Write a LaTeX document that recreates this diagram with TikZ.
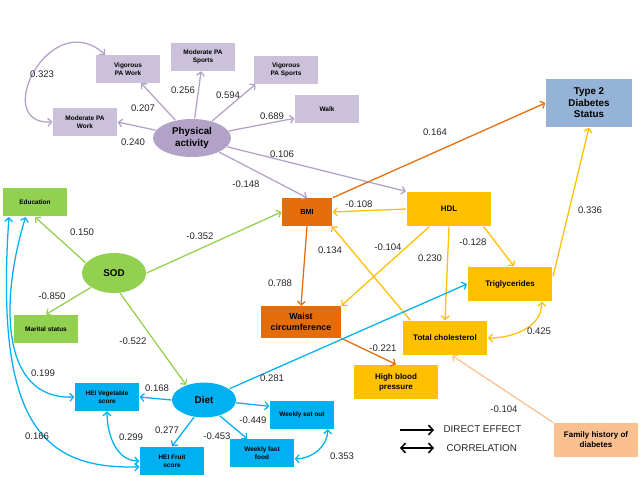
\documentclass[tikz,border=0pt]{standalone}
\usepackage{fontspec}
\setmainfont{Liberation Sans}
\usepackage{tikz}
\usetikzlibrary{arrows.meta,shapes.geometric}
\definecolor{palight}{HTML}{CCC1DA}
\definecolor{padark}{HTML}{B3A2C7}
\definecolor{sodgreen}{HTML}{92D050}
\definecolor{bmiorange}{HTML}{E46C0A}
\definecolor{lipidyellow}{HTML}{FFC000}
\definecolor{dietblue}{HTML}{00B0F0}
\definecolor{tdblue}{HTML}{95B3D7}
\definecolor{fampeach}{HTML}{FAC090}

\begin{document}
\begin{tikzpicture}[x=0.025cm, y=-0.025cm, line width=0.9pt,
        >={Straight Barb[length=2.6pt,width=5.6pt]},
        nodes={inner sep=0pt, align=center},
        sbox/.style={rectangle, minimum width=1.6cm, minimum height=0.68cm, font=\fontsize{4.6}{5.6}\selectfont\bfseries},
        mbox/.style={rectangle, minimum width=2.12cm, minimum height=0.85cm, font=\fontsize{5.7}{7.2}\selectfont\bfseries},
        lv/.style={ellipse, font=\fontsize{7}{8.4}\selectfont\bfseries},
        w/.style={font=\fontsize{6.8}{8}\selectfont, text=black!85},
        legend/.style={line width=1.1pt, >={Straight Barb[length=3.2pt,width=7pt]}}]
        \useasboundingbox (0,0) rectangle (640,476);
        \node[sbox, fill=palight] (vpw) at (128,69) {Vigorous\\PA Work};
        \node[sbox, fill=palight] (mps) at (203,57) {Moderate PA\\Sports};
        \node[sbox, fill=palight] (vps) at (286,70) {Vigorous\\PA Sports};
        \node[sbox, fill=palight] (walk) at (327,109) {Walk};
        \node[sbox, fill=palight] (mpw) at (85,122) {Moderate PA\\Work};
        \node[lv, fill=padark, minimum width=1.95cm, minimum height=0.95cm] (pa) at (192,138) {Physical\\activity};
        \node[rectangle, fill=tdblue, minimum width=2.15cm, minimum height=1.2cm, font=\fontsize{7}{8.2}\selectfont\bfseries] (t2d) at (589,103) {Type 2\\Diabetes\\Status};
        \node[sbox, fill=sodgreen, minimum height=0.72cm] (edu) at (35,202) {Education};
        \node[lv, fill=sodgreen, minimum width=1.6cm, minimum height=1cm] (sod) at (114,273) {SOD};
        \node[sbox, fill=sodgreen, minimum height=0.7cm] (ms) at (46,329) {Marital status};
        \node[rectangle, fill=bmiorange, minimum width=1.25cm, minimum height=0.68cm, font=\fontsize{5.2}{6}\selectfont\bfseries] (bmi) at (307,212) {BMI};
        \node[mbox, fill=lipidyellow] (hdl) at (449,209) {HDL};
        \node[mbox, fill=lipidyellow] (trig) at (510,284) {Triglycerides};
        \node[rectangle, fill=bmiorange, minimum width=1.98cm, minimum height=0.78cm, font=\fontsize{6.3}{7.6}\selectfont\bfseries] (waist) at (301,322) {Waist\\circumference};
        \node[mbox, fill=lipidyellow] (tc) at (445,338) {Total cholesterol};
        \node[mbox, fill=lipidyellow] (hbp) at (396,382) {High blood\\pressure};
        \node[mbox, fill=fampeach] (fam) at (596,440) {Family history of\\diabetes};
        \node[lv, fill=dietblue, minimum width=1.6cm, minimum height=0.87cm] (diet) at (204,400) {Diet};
        \node[sbox, fill=dietblue] (veg) at (107,397) {HEI Vegetable\\score};
        \node[sbox, fill=dietblue, minimum height=0.7cm] (fruit) at (172,461) {HEI Fruit\\score};
        \node[sbox, fill=dietblue] (weo) at (302,415) {Weekly eat out};
        \node[sbox, fill=dietblue] (wff) at (262,453) {Weekly fast\\food};
        \draw [->, padark] (pa) -- (vpw);
        \draw [->, padark] (pa) -- (mps);
        \draw [->, padark] (pa) -- (vps.205);
        \draw [->, padark] (pa) -- (walk.196);
        \draw [->, padark] (pa) -- (mpw.east);
        \draw [->, padark] (pa) -- (bmi.north);
        \draw [->, padark] (pa) -- (hdl.north west);
        \draw [<->, padark] (mpw.west) .. controls (-10,125) and (50,5) .. (vpw.148);
        \draw [->, sodgreen] (sod.160) -- (edu.south);
        \draw [->, sodgreen] (sod.212) -- (ms.north);
        \draw [->, sodgreen] (sod.east) -- (bmi.west);
        \draw [->, sodgreen] (sod.-73) -- (diet.140);
        \draw [->, bmiorange] (bmi.north east) -- (t2d.west);
        \draw [->, bmiorange] (bmi.south) -- (waist.north);
        \draw [->, bmiorange] (waist.south east) -- (hbp.north);
        \draw [->, lipidyellow] (hdl.west) -- (bmi.east);
        \draw [->, lipidyellow] (hdl) -- (waist.north east);
        \draw [->, lipidyellow] (hdl.south) -- (tc.north);
        \draw [->, lipidyellow] (hdl.-27) -- (trig.77);
        \draw [->, lipidyellow] (tc.153) -- (bmi.-30);
        \draw [->, lipidyellow] (trig.10) -- (t2d.south);
        \draw [<->, lipidyellow] (tc.east) to[out=0, in=-90] (trig.-29);
        \draw [->, fampeach] (fam.north west) -- (tc.-68);
        \draw [->, dietblue] (diet) -- (trig.west);
        \draw [->, dietblue] (diet.west) -- (veg.east);
        \draw [->, dietblue] (diet.240) -- (fruit.north);
        \draw [->, dietblue] (diet.-45) -- (wff.136);
        \draw [->, dietblue] (diet.-5) -- (weo.165);
        \draw [<->, dietblue] (veg.south) to[out=-90, in=180] (fruit.west);
        \draw [<->, dietblue] (wff.-10) to[out=0, in=-90] (weo.-29);
        \draw [<->, dietblue] (edu.238) .. controls (0,300) and (0,400) .. (veg.west);
        \draw [<->, dietblue] (edu.210) .. controls (-5,420) and (40,470) .. (fruit.190);
        \node[w] (c323) at (42,74) {0.323};
        \node[w] (c207) at (143,108) {0.207};
        \node[w] (c256) at (183,90) {0.256};
        \node[w] (c594) at (228,95) {0.594};
        \node[w] (c689) at (272,116) {0.689};
        \node[w] (c240) at (133,142) {0.240};
        \node[w] (c106) at (282,154) {0.106};
        \node[w] (c164) at (435,132) {0.164};
        \node[w] (c148) at (246,184) {-0.148};
        \node[w] (c150) at (82,232) {0.150};
        \node[w] (c352) at (200,236) {-0.352};
        \node[w] (c850) at (52,296) {-0.850};
        \node[w] (c788) at (280,283) {0.788};
        \node[w] (c108) at (359,204) {-0.108};
        \node[w] (c134) at (330,250) {0.134};
        \node[w] (c104a) at (388,247) {-0.104};
        \node[w] (c230) at (430,258) {0.230};
        \node[w] (c128) at (473,242) {-0.128};
        \node[w] (c336) at (590,210) {0.336};
        \node[w] (c425) at (539,331) {0.425};
        \node[w] (c221) at (383,348) {-0.221};
        \node[w] (c104b) at (504,409) {-0.104};
        \node[w] (c522) at (133,341) {-0.522};
        \node[w] (c281) at (272,378) {0.281};
        \node[w] (c199) at (43,373) {0.199};
        \node[w] (c168) at (157,388) {0.168};
        \node[w] (c166) at (37,436) {0.166};
        \node[w] (c299) at (131,437) {0.299};
        \node[w] (c277) at (167,430) {0.277};
        \node[w] (c453) at (217,436) {-0.453};
        \node[w] (c449) at (253,420) {-0.449};
        \node[w] (c353) at (342,456) {0.353};
        \coordinate (dea) at (400,430);
        \coordinate (deb) at (434,430);
        \coordinate (coa) at (400,448);
        \coordinate (cob) at (434,448);
        \draw [->, legend] (dea) -- (deb);
        \draw [<->, legend] (coa) -- (cob);
        \node[w, anchor=west, font=\fontsize{7}{8}\selectfont] (det) at (443,429) {DIRECT EFFECT};
        \node[w, anchor=west, font=\fontsize{7}{8}\selectfont] (cot) at (446,448) {CORRELATION};
\end{tikzpicture}
\end{document}
